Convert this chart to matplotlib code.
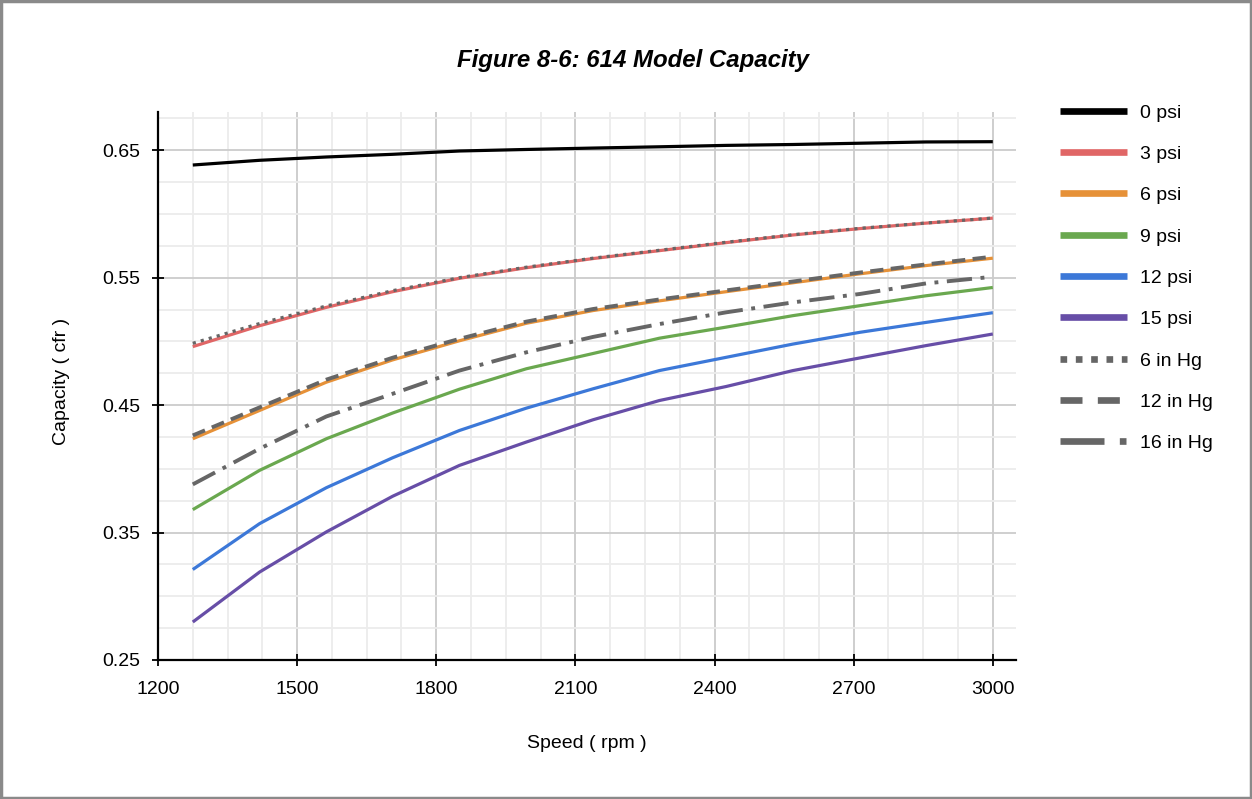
import matplotlib
matplotlib.use("Agg")
import matplotlib.pyplot as plt
from matplotlib.lines import Line2D
from matplotlib.patches import Rectangle

plt.rcParams["font.family"] = ["Liberation Sans", "DejaVu Sans"]

# data
speed_rpm = [1275, 1419, 1563, 1706, 1850, 1994, 2138, 2281, 2425, 2569, 2713, 2856, 3000]

psi_0 = [0.6384, 0.6421, 0.6447, 0.6468, 0.6494, 0.6506, 0.6517, 0.6527, 0.6538, 0.6545, 0.6555, 0.6565, 0.6567]
psi_3 = [0.4959, 0.5123, 0.5267, 0.5390, 0.5495, 0.5578, 0.5650, 0.5712, 0.5775, 0.5835, 0.5885, 0.5928, 0.5967]
psi_6 = [0.4236, 0.4458, 0.4680, 0.4855, 0.5005, 0.5142, 0.5242, 0.5318, 0.5390, 0.5460, 0.5530, 0.5595, 0.5653]
psi_9 = [0.3680, 0.3988, 0.4236, 0.4438, 0.4625, 0.4785, 0.4905, 0.5025, 0.5112, 0.5202, 0.5280, 0.5358, 0.5423]
psi_12 = [0.3210, 0.3570, 0.3852, 0.4087, 0.4301, 0.4476, 0.4628, 0.4771, 0.4875, 0.4979, 0.5071, 0.5149, 0.5225]
psi_15 = [0.2798, 0.3190, 0.3505, 0.3785, 0.4027, 0.4210, 0.4385, 0.4536, 0.4646, 0.4771, 0.4870, 0.4967, 0.5058]
hg_6 = [0.4985, 0.5140, 0.5278, 0.5398, 0.5500, 0.5582, 0.5653, 0.5715, 0.5778, 0.5837, 0.5887, 0.5929, 0.5968]
hg_12 = [0.4262, 0.4482, 0.4700, 0.4872, 0.5020, 0.5155, 0.5254, 0.5329, 0.5400, 0.5470, 0.5540, 0.5604, 0.5665]
hg_16 = [0.3878, 0.4158, 0.4411, 0.4589, 0.4771, 0.4914, 0.5035, 0.5136, 0.5228, 0.5306, 0.5372, 0.5455, 0.5507]

labels = ["0 psi", "3 psi", "6 psi", "9 psi", "12 psi", "15 psi", "6 in Hg", "12 in Hg", "16 in Hg"]

x_major = [1200, 1500, 1800, 2100, 2400, 2700, 3000]
x_minor = [v for v in range(1275, 3001, 75)]
y_major = [0.25, 0.35, 0.45, 0.55, 0.65]
y_minor = [0.275, 0.30, 0.325, 0.375, 0.40, 0.425, 0.475, 0.50, 0.525, 0.575, 0.60, 0.625, 0.675]

GRAY = "#666666"
solid_colors = ["#000000", "#e06666", "#e69138", "#6aa84f", "#3c78d8", "#674ea7"]
FS = 14

fig = plt.figure(figsize=(12.52, 7.99), dpi=100)
ax = fig.add_axes([158 / 1252, 1 - 660 / 799, (1016 - 158) / 1252, (660 - 112) / 799])

# grid first
for v in x_minor:
    ax.axvline(v, color="#ececec", lw=1.3, zorder=0)
for v in x_major[1:]:
    ax.axvline(v, color="#cccccc", lw=1.3, zorder=0)
for v in y_minor:
    ax.axhline(v, color="#ececec", lw=1.3, zorder=0)
for v in y_major[1:]:
    ax.axhline(v, color="#cccccc", lw=1.3, zorder=0)

solid_series = [psi_0, psi_3, psi_6, psi_9, psi_12, psi_15]
for ys, c in zip(solid_series, solid_colors):
    ax.plot(speed_rpm, ys, color=c, lw=2.3, solid_capstyle="butt", zorder=3)

# vacuum curves drawn on top
ax.plot(speed_rpm, hg_6, color=GRAY, lw=2.3, dashes=(1, 1.6), dash_capstyle="butt", zorder=4)
ax.plot(speed_rpm, hg_12, color=GRAY, lw=2.8, dashes=(3.4, 1.9), dash_capstyle="butt", zorder=4)
ax.plot(speed_rpm, hg_16, color=GRAY, lw=2.8, dashes=(6.5, 2.2, 1, 2.2), dash_capstyle="butt", zorder=4)

ax.set_xlim(1200, 3050)
ax.set_ylim(0.25, 0.68)
ax.set_xticks(x_major)
ax.set_yticks(y_major)
ax.set_yticklabels([f"{v:.2f}" for v in y_major])
ax.tick_params(axis="both", direction="inout", length=8, width=1.3, labelsize=FS, colors="#000000")
ax.tick_params(axis="x", pad=11)
ax.tick_params(axis="y", pad=9)
for s in ["top", "right"]:
    ax.spines[s].set_visible(False)
for s in ["left", "bottom"]:
    ax.spines[s].set_linewidth(1.6)
    ax.spines[s].set_zorder(5)

# legend handles
handles = [Line2D([], [], color=c, lw=4.8, solid_capstyle="butt") for c in solid_colors]
handles.append(Line2D([], [], color=GRAY, lw=4.8, dashes=(1, 1.3), dash_capstyle="butt"))
handles.append(Line2D([], [], color=GRAY, lw=4.8, dashes=(3.3, 2.3), dash_capstyle="butt"))
handles.append(Line2D([], [], color=GRAY, lw=4.8, dashes=(6.6, 2.3, 1, 2.3), dash_capstyle="butt"))
fig.legend(
    handles, labels,
    loc="upper left", bbox_to_anchor=(1060 / 1252, 1 - 104 / 799),
    frameon=False, fontsize=FS, handlelength=3.45, handletextpad=0.67,
    labelspacing=1.22, borderaxespad=0, borderpad=0,
)

fig.text(633 / 1252, 1 - 60 / 799, "Figure 8-6: 614 Model Capacity",
         ha="center", va="center", fontsize=17.3, fontweight="bold", fontstyle="italic")
fig.text(587 / 1252, 1 - 743 / 799, "Speed ( rpm )", ha="center", va="center", fontsize=FS)
fig.text(62 / 1252, 1 - 381 / 799, "Capacity ( cfr )", ha="center", va="center",
         rotation=90, fontsize=FS)

# outer frame
fig.patches.append(Rectangle((0.001, 0.001), 0.998, 0.998, transform=fig.transFigure,
                             fill=False, edgecolor="#8a8a8a", lw=2.5))

fig.savefig("out.png", dpi=100)
